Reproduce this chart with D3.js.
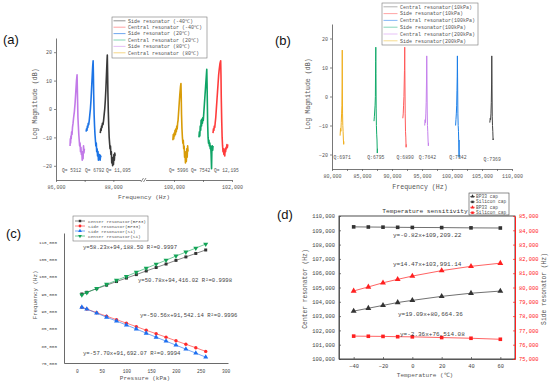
<!DOCTYPE html>
<html>
<head>
<meta charset="utf-8">
<script src="https://cdn.jsdelivr.net/npm/d3@7"></script>
<style>
  body { margin: 0; background: #fff; }
  svg { display: block; }
</style>
</head>
<body>
<svg id="fig" width="550" height="384"></svg>
<script>
// ---------- data ----------
// (a) temperature sweep, [Hz, dB]
const side80 = [[86490,-13],[86500,-10.5],[86510,-12],[86520,-9.5],[86530,-10.5],[86545,-8],[86560,-9],[86575,-6.5],[86595,-5],[86615,-3],[86640,-1],[86665,2],[86690,6],[86715,10],[86735,12],[86745,7],[86755,2],[86765,-3],[86780,-6],[86795,-9],[86810,-11],[86825,-13],[86840,-12],[86855,-15],[86870,-13.5],[86885,-16],[86900,-15],[86915,-18],[86930,-16],[86945,-17.5],[86960,-13],[86975,-15.5],[86990,-14]];
const side20 = [[87050,-8],[87065,-7],[87080,-7.5],[87095,-6],[87110,-6.5],[87125,-5],[87140,-5.5],[87160,-4],[87180,-2],[87200,0],[87220,3],[87240,7],[87260,11],[87280,15],[87295,17],[87305,12],[87315,5],[87330,-2],[87345,-6],[87360,-9],[87375,-11],[87390,-13],[87405,-12],[87420,-15],[87435,-14],[87450,-16.5],[87465,-15],[87480,-18],[87495,-16],[87510,-17.5],[87525,-16],[87540,-18],[87555,-16.5],[87570,-17]];
const sideM40 = [[87545,-8.5],[87560,-7],[87575,-7.5],[87590,-6],[87605,-6.5],[87620,-5],[87640,-5.5],[87660,-4],[87680,-2],[87700,0],[87720,3],[87740,7],[87760,12],[87780,17],[87790,19],[87800,13],[87810,6],[87825,-1],[87840,-6],[87855,-10],[87870,-12],[87885,-14],[87900,-13],[87915,-16],[87930,-15],[87945,-19],[87960,-17],[87975,-20],[87990,-18],[88005,-19.5],[88020,-16],[88035,-18],[88050,-15.5],[88065,-16.5]];
const central80 = [[99960,-11],[99975,-9],[99990,-10.5],[100005,-8.5],[100020,-9.5],[100035,-7.5],[100050,-9],[100065,-7],[100080,-8],[100095,-6],[100110,-7],[100125,-5],[100140,-4],[100160,-1],[100180,2],[100200,5],[100225,8],[100240,9],[100250,4],[100260,-2],[100275,-7],[100290,-10],[100305,-12],[100320,-11],[100335,-14],[100350,-13],[100365,-17],[100380,-15],[100395,-19],[100410,-16],[100425,-18.5],[100440,-14],[100455,-17],[100470,-13],[100485,-15]];
const central20 = [[100860,-10],[100875,-8],[100890,-9.5],[100905,-6],[100920,-7.5],[100935,-4],[100950,-6],[100965,-3.5],[100980,-5],[100995,-3],[101010,-4],[101030,-1],[101050,2],[101070,5],[101090,8],[101110,11],[101130,14],[101140,9],[101150,2],[101160,-5],[101175,-10],[101190,-12],[101205,-11],[101220,-13],[101235,-12],[101250,-14],[101265,-13],[101280,-16],[101295,-21],[101305,-15],[101320,-13],[101335,-14.5],[101345,-13]];
const centralM40 = [[101345,-8.5],[101360,-7],[101375,-7.5],[101390,-6],[101405,-6.5],[101420,-5],[101440,-3],[101460,0],[101480,3],[101500,6],[101520,9],[101540,12],[101560,14],[101585,16],[101610,17],[101620,12],[101630,4],[101645,-4],[101660,-10],[101675,-13],[101690,-15],[101705,-14],[101720,-16],[101735,-15],[101750,-16.5],[101765,-14],[101780,-15],[101795,-13.5],[101810,-14],[101825,-12.5],[101840,-13.5],[101855,-12.5]];
const qLabelsA = [["Q= 5312",62],["Q= 6792",85],["Q= 11,095",106],["Q= 5996",169],["Q= 7542",191],["Q= 12,195",214]];

// (b) pressure sweep, [Hz, dB]
const side200k = [[81350,-13.5],[81420,-11],[81480,-12],[81540,-9],[81600,-6],[81650,-3],[81690,5],[81710,16],[81730,5],[81760,-6],[81800,-10],[81850,-12],[81900,-15],[81950,-16.5],[81980,-15.5]];
const side100k = [[87000,-8.5],[87060,-7],[87120,-5],[87180,-3],[87230,0],[87270,12],[87300,17],[87330,8],[87360,-4],[87400,-10],[87450,-13],[87500,-15],[87550,-19.5],[87580,-18]];
const side10k = [[91800,-7.5],[91870,-6],[91930,-3],[91990,0],[92040,5],[92080,9],[92120,17],[92160,5],[92200,-6],[92250,-12],[92300,-14],[92350,-17.5],[92380,-16.5]];
const central200k = [[95450,-10],[95520,-8],[95580,-9],[95640,-6],[95700,-2],[95750,5],[95790,14],[95830,6],[95870,-5],[95910,-10],[95960,-12],[96010,-15],[96060,-17],[96090,-16]];
const central100k = [[100600,-10],[100660,-8],[100720,-6],[100780,-3],[100830,2],[100870,7],[100900,14],[100940,5],[100980,-6],[101030,-10],[101080,-12],[101130,-16],[101180,-21],[101210,-15]];
const central10k = [[106300,-9],[106370,-7.5],[106430,-8],[106490,-6],[106550,-2],[106600,5],[106630,14],[106670,4],[106710,-7],[106750,-10],[106800,-12],[106850,-15],[106880,-14.5]];
const qLabelsB = [["Q:6971",81700],["Q:6795",87300],["Q:6890",92200],["Q:7642",95900],["Q:7342",101000],["Q:7369",106700]];

// (c) frequency vs pressure
const pressure = [10,20,40,60,80,100,120,140,160,180,200,220,240,260];
const centerBP33 = [94900,95400,96450,97450,98500,99500,100500,101550,102550,103550,104600,105600,106600,107600];
const sideBP33 = [91050,90550,89500,88500,87500,86500,85500,84450,83450,82450,81400,80400,79400,78350];
const sideSi = [91100,90550,89400,88200,87100,85950,84800,83600,82450,81300,80150,79000,77850,76700];
const centerSi = [94650,95300,96500,97700,98850,100000,101200,102350,103500,104650,105850,107000,108150,109300];

// (d) frequency vs temperature
const temps = [-40,-30,-20,-10,0,20,40,60];
const centerBP33cap = [103350,103550,103750,103950,104100,104380,104600,104750];
const centerSiCap = [109240,109230,109220,109210,109200,109190,109170,109160];
const sideBP33cap = [79760,80040,80330,80570,80800,81180,81480,81700];
const sideSiCap = [76600,76590,76580,76560,76550,76500,76450,76380];

// ---------- helpers ----------
const MONO = "'Liberation Mono','DejaVu Sans Mono',monospace";
const svg = d3.select("#fig");
svg.append("rect").attr("width", 550).attr("height", 384).attr("fill", "#fff");

function styleAxis(g, color, fs) {
  g.select(".domain").attr("stroke", color).attr("stroke-width", 0.8);
  g.selectAll(".tick line").attr("stroke", color).attr("stroke-width", 0.7);
  g.selectAll(".tick text").attr("fill", color).style("font-size", fs + "px").style("font-family", MONO);
}

function text(x, y, str, opt = {}) {
  return svg.append("text")
    .attr("x", x).attr("y", y)
    .attr("text-anchor", opt.anchor || "start")
    .attr("fill", opt.color || "#444")
    .style("font-family", opt.family || MONO)
    .style("font-size", (opt.size || 5) + "px")
    .text(str);
}

function vtext(x, y, str, opt = {}) {
  return svg.append("text")
    .attr("transform", `translate(${x},${y}) rotate(-90)`)
    .attr("text-anchor", "middle")
    .attr("fill", opt.color || "#444")
    .style("font-family", MONO)
    .style("font-size", (opt.size || 6) + "px")
    .text(str);
}

function curve(pts, xs, ys, color, w) {
  svg.append("path").datum(pts)
    .attr("fill", "none").attr("stroke", color)
    .attr("stroke-width", w).attr("stroke-linejoin", "round")
    .attr("d", d3.line().x(d => xs(d[0])).y(d => ys(d[1])));
}

function lineLegend(x0, y0, w, h, items, rowGap, lineLen, fs) {
  svg.append("rect").attr("x", x0).attr("y", y0).attr("width", w).attr("height", h)
    .attr("fill", "#fff").attr("stroke", "#777").attr("stroke-width", 0.6);
  items.forEach(([label, color], i) => {
    const y = y0 + 3.8 + i * rowGap;
    svg.append("line").attr("x1", x0 + 1.5).attr("x2", x0 + 1.5 + lineLen)
      .attr("y1", y).attr("y2", y).attr("stroke", color).attr("stroke-width", 0.9).attr("opacity", 0.7);
    text(x0 + lineLen + 4, y + fs * 0.35, label, { size: fs, color: "#555" });
  });
}

const sym = (type, size) => d3.symbol().type(type).size(size)();

// ---------- panel labels ----------
text(3, 44, "(a)", { family: "'Liberation Sans',Arial,sans-serif", size: 13, color: "#111" });
text(275, 45, "(b)", { family: "'Liberation Sans',Arial,sans-serif", size: 13, color: "#111" });
text(6, 238, "(c)", { family: "'Liberation Sans',Arial,sans-serif", size: 13, color: "#111" });
text(277, 219, "(d)", { family: "'Liberation Sans',Arial,sans-serif", size: 13, color: "#111" });

// ---------- (a) ----------
{
  const xl = d3.scaleLinear([86000, 89000], [56, 142]);
  const xr = d3.scaleLinear([99000, 102000], [145, 232]);
  const y = d3.scaleLinear([-25, 25], [180, 38]);
  const ax = "#555";

  styleAxis(svg.append("g").attr("transform", "translate(56,0)")
    .call(d3.axisLeft(y).tickValues([-20, -10, 0, 10, 20]).tickSize(2).tickSizeOuter(0).tickPadding(2)), ax, 5);
  styleAxis(svg.append("g").attr("transform", "translate(0,180)")
    .call(d3.axisBottom(xl).tickValues([86000, 87000, 88000]).tickSize(2).tickSizeOuter(0).tickPadding(3)
      .tickFormat(d => d === 87000 ? "" : d3.format(",")(d))), ax, 5);
  styleAxis(svg.append("g").attr("transform", "translate(0,180)")
    .call(d3.axisBottom(xr).tickValues([100000, 101000, 102000]).tickSize(2).tickSizeOuter(0).tickPadding(3)
      .tickFormat(d => d === 101000 ? "" : d3.format(",")(d))), ax, 5);
  // axis break
  svg.append("rect").attr("x", 141).attr("y", 177).attr("width", 5).attr("height", 6).attr("fill", "#fff");
  [141, 143.5].forEach(bx => svg.append("line").attr("x1", bx).attr("x2", bx + 2.5)
    .attr("y1", 182).attr("y2", 178).attr("stroke", ax).attr("stroke-width", 0.7));

  curve(side80, xl, y, "#c27ae8", 1.6);
  curve(side20, xl, y, "#1c74e6", 1.6);
  curve(sideM40, xl, y, "#3a3a3a", 1.6);
  curve(central80, xr, y, "#d89c08", 1.6);
  curve(central20, xr, y, "#0fa466", 1.6);
  curve(centralM40, xr, y, "#ff3c3c", 1.6);

  qLabelsA.forEach(([s, px]) => text(px, 172, s, { size: 4.6, color: "#555" }));

  vtext(37, 104, "Log Magnitude (dB)", { size: 6.6, color: "#555" });
  text(144, 199, "Frequency (Hz)", { anchor: "middle", size: 6.2, color: "#555" });

  lineLegend(112, 17, 95, 41, [
    ["Side resonator (-40℃)", "#555"],
    ["Central resonator (-40℃)", "#ff6b6b"],
    ["Side resonator (20℃)", "#1c74e6"],
    ["Central resonator (20℃)", "#3cc08a"],
    ["Side resonator (80℃)", "#d59af0"],
    ["Central resonator (80℃)", "#f2c040"]
  ], 6.4, 12, 5);
}

// ---------- (b) ----------
{
  const x = d3.scaleLinear([80000, 110000], [332, 512]);
  const y = d3.scaleLinear([-25, 25], [169, 24]);
  const ax = "#555";

  styleAxis(svg.append("g").attr("transform", "translate(332,0)")
    .call(d3.axisLeft(y).tickValues([-20, -10, 0, 10, 20]).tickSize(2).tickSizeOuter(0).tickPadding(2)), ax, 5);
  styleAxis(svg.append("g").attr("transform", "translate(0,169)")
    .call(d3.axisBottom(x).tickValues(d3.range(80000, 110001, 2500)).tickSize(2).tickSizeOuter(0).tickPadding(3)
      .tickFormat(d => d % 5000 ? "" : d3.format(",")(d))), ax, 5);

  curve(side200k, x, y, "#f0b020", 1);
  curve(side100k, x, y, "#12aa6a", 1);
  curve(side10k, x, y, "#ff5a5a", 1);
  curve(central200k, x, y, "#c580ec", 1);
  curve(central100k, x, y, "#1a7ee8", 1);
  curve(central10k, x, y, "#444", 1);

  qLabelsB.forEach(([s, f], i) => text(x(f), i === 5 ? 160.5 : 159, s, { anchor: "middle", size: 4.8, color: "#555" }));

  vtext(310, 94, "Log Magnitude (dB)", { size: 6.6, color: "#555" });
  text(420, 189, "Frequency (Hz)", { anchor: "middle", size: 6.6, color: "#555" });

  lineLegend(382, 3, 96, 42, [
    ["Central resonator(10kPa)", "#888"],
    ["Side resonator(10kPa)", "#ff7070"],
    ["Central resonator(100kPa)", "#3d8ff0"],
    ["Side resonator(100kPa)", "#40c090"],
    ["Central resonator(200kPa)", "#d9a0f4"],
    ["Side resonator(200kPa)", "#f4c850"]
  ], 6.8, 14, 5);
}

// ---------- (c) ----------
{
  const x = d3.scaleLinear([-26, 305], [64, 228]);
  const y = d3.scaleLinear([75000, 112500], [363, 233]);
  const ax = "#444";

  styleAxis(svg.append("g").attr("transform", "translate(64,0)")
    .call(d3.axisLeft(y).tickValues(d3.range(75000, 110001, 5000)).tickSize(0).tickSizeOuter(0).tickPadding(7)
      .tickFormat(d3.format(","))), ax, 4.3);
  styleAxis(svg.append("g").attr("transform", "translate(0,363)")
    .call(d3.axisBottom(x).tickValues(d3.range(0, 301, 50)).tickSize(0).tickSizeOuter(0).tickPadding(7)), ax, 4.6);

  const series = [
    [centerBP33, "#333", d3.symbolSquare, 0, 9],
    [sideBP33, "#ff2a2a", d3.symbolCircle, 0, 9],
    [sideSi, "#1c6ff0", d3.symbolTriangle, 0, 11],
    [centerSi, "#12a456", d3.symbolTriangle, 180, 11]
  ];
  series.forEach(([vals, color, type, rot, size]) => {
    const pts = pressure.map((p, i) => [p, vals[i]]);
    curve(pts, x, y, color, 0.6);
    svg.append("g").selectAll("path").data(pts).join("path")
      .attr("transform", d => `translate(${x(d[0])},${y(d[1])}) rotate(${rot})`)
      .attr("d", sym(type, size)).attr("fill", color);
  });

  text(83, 249, "y=58.23x+94,188.50 R²=0.9997", { size: 5.6, color: "#444" });
  text(138, 282, "y=50.78x+94,416.02 R²=0.9998", { size: 5.6, color: "#444" });
  text(140, 317, "y=-50.56x+91,542.14 R²=0.9996", { size: 5.6, color: "#444" });
  text(83, 355, "y=-57.70x+91,692.07 R²=0.9994", { size: 5.6, color: "#444" });

  vtext(37, 295, "Frequency (Hz)", { size: 5.8, color: "#555" });
  text(145, 380, "Pressure (kPa)", { anchor: "middle", size: 6, color: "#555" });

  // legend with markers
  svg.append("rect").attr("x", 73).attr("y", 216).attr("width", 75).attr("height", 25)
    .attr("fill", "#fff").attr("stroke", "#777").attr("stroke-width", 0.6);
  const legC = ["Center resonator(BP33)", "Side resonator(BP33)", "Side resonator(Si)", "Center resonator(Si)"];
  series.forEach(([, color, type, rot], i) => {
    const ly = 221 + i * 5;
    svg.append("line").attr("x1", 75).attr("x2", 85).attr("y1", ly).attr("y2", ly)
      .attr("stroke", color).attr("stroke-width", 0.6);
    svg.append("path").attr("transform", `translate(80,${ly}) rotate(${rot})`)
      .attr("d", sym(type, 6)).attr("fill", color);
    text(88, ly + 1.5, legC[i], { size: 4.4, color: "#555" });
  });
}

// ---------- (d) ----------
{
  const x = d3.scaleLinear([-50, 70], [339, 515]);
  const yl = d3.scaleLinear([100000, 110000], [359, 216]);
  const yr = d3.scaleLinear([75000, 85000], [359, 216]);
  const red = "#ff2020";

  svg.append("rect").attr("x", 339).attr("y", 216).attr("width", 176).attr("height", 143)
    .attr("fill", "none").attr("stroke", "#222").attr("stroke-width", 0.8);
  styleAxis(svg.append("g").attr("transform", "translate(339,0)")
    .call(d3.axisLeft(yl).ticks(10).tickSize(-2).tickSizeOuter(0).tickPadding(4).tickFormat(d3.format(","))), "#444", 5.4);
  styleAxis(svg.append("g").attr("transform", "translate(0,359)")
    .call(d3.axisBottom(x).tickValues(d3.range(-40, 61, 20)).tickSize(-2).tickSizeOuter(0).tickPadding(5)), "#444", 5.4);
  const gr = svg.append("g").attr("transform", "translate(515,0)")
    .call(d3.axisRight(yr).ticks(10).tickSize(-2).tickSizeOuter(0).tickPadding(4).tickFormat(d3.format(",")));
  styleAxis(gr, red, 5.4);
  gr.select(".domain").attr("stroke-width", 1);

  const series = [
    [centerSiCap, yl, "#333", d3.symbolSquare, 13],
    [centerBP33cap, yl, "#333", d3.symbolTriangle, 15],
    [sideBP33cap, yr, red, d3.symbolTriangle, 15],
    [sideSiCap, yr, red, d3.symbolSquare, 13]
  ];
  series.forEach(([vals, ys, color, type, size]) => {
    const pts = temps.map((t, i) => [t, vals[i]]);
    curve(pts, x, ys, color, 0.7);
    svg.append("g").selectAll("path").data(pts).join("path")
      .attr("transform", d => `translate(${x(d[0])},${ys(d[1])})`)
      .attr("d", sym(type, size)).attr("fill", color);
  });

  text(393, 237, "y=-0.82x+109,209.22", { size: 6, color: "#444" });
  text(393, 266, "y=14.47x+103,991.14", { size: 6, color: "#444" });
  text(398, 316, "y=19.09x+80,664.36", { size: 6, color: "#444" });
  text(400, 336, "y=-2.36x+76,514.08", { size: 6, color: "#444" });

  text(425, 213, "Temperature sensitivity", { anchor: "middle", size: 6.2, color: "#333" });
  vtext(307, 289, "Center resonator (Hz)", { size: 6.3, color: "#555" });
  vtext(546, 289, "Side resonator (Hz)", { size: 6.3, color: "#555" });
  text(425, 377, "Temperature (℃)", { anchor: "middle", size: 6, color: "#555" });

  // legend
  svg.append("rect").attr("x", 469).attr("y", 193).attr("width", 40).attr("height", 22)
    .attr("fill", "#fff").attr("stroke", "#444").attr("stroke-width", 0.6);
  const legD = [["BP33 cap", "#333", d3.symbolTriangle], ["Silicon cap", "#333", d3.symbolSquare],
                ["BP33 cap", red, d3.symbolTriangle], ["Silicon cap", red, d3.symbolSquare]];
  legD.forEach(([label, color, type], i) => {
    const ly = 196.5 + i * 5.4;
    svg.append("line").attr("x1", 470).attr("x2", 475).attr("y1", ly).attr("y2", ly)
      .attr("stroke", color).attr("stroke-width", 0.6);
    svg.append("path").attr("transform", `translate(472.5,${ly})`).attr("d", sym(type, 6)).attr("fill", color);
    text(476, ly + 1.5, label, { size: 4.6, color: "#555" });
  });
}
</script>
</body>
</html>
